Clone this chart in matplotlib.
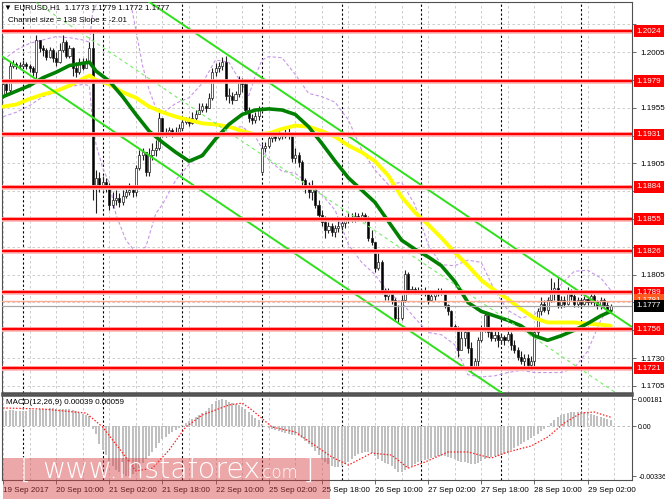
import matplotlib
matplotlib.use("Agg")
import matplotlib.pyplot as plt
import matplotlib.transforms as mtrans
from matplotlib.patches import Rectangle
import numpy as np

plt.rcParams['font.family'] = ['Liberation Sans', 'DejaVu Sans']

# ---------------- data (EURUSD H1, 19 Sep 18:00 .. 29 Sep 09:00) ----------------
closes = [
    1.1976, 1.1971, 1.1993, 1.1994, 1.1993, 1.1993, 1.1994, 1.1993, 1.1991, 1.1987,
    1.2016, 1.2009, 1.2007, 1.2001, 1.2007, 1.2000, 1.1996, 1.2007, 1.2014, 1.2002,
    1.2009, 1.1991, 1.1987, 1.1996, 1.1991, 1.1996, 1.2009, 1.1886, 1.1892, 1.1886,
    1.1888, 1.1884, 1.1868, 1.1872, 1.1874, 1.1870, 1.1876, 1.1879, 1.1881, 1.1879,
    1.1901, 1.1913, 1.1915, 1.1897, 1.1913, 1.1917, 1.1919, 1.1946, 1.1933, 1.1932,
    1.1935, 1.1931, 1.1933, 1.1937, 1.1942, 1.1944, 1.1941, 1.1946, 1.1949, 1.1953,
    1.1957, 1.1955, 1.1964, 1.1987, 1.1991, 1.1993, 1.1996, 1.1966, 1.1966, 1.1962,
    1.1967, 1.1980, 1.1976, 1.1953, 1.1946, 1.1944, 1.1948, 1.1953, 1.1919, 1.1921,
    1.1928, 1.1930, 1.1928, 1.1931, 1.1930, 1.1932, 1.1931, 1.1910, 1.1913, 1.1906,
    1.1890, 1.1883, 1.1879, 1.1884, 1.1868, 1.1859, 1.1852, 1.1845, 1.1849, 1.1843,
    1.1847, 1.1849, 1.1851, 1.1855, 1.1857, 1.1855, 1.1858, 1.1856, 1.1859, 1.1857,
    1.1838, 1.1834, 1.1811, 1.1816, 1.1791, 1.1786, 1.1789, 1.1782, 1.1766, 1.1766,
    1.1782, 1.1806, 1.1791, 1.1792, 1.1790, 1.1791, 1.1789, 1.1790, 1.1782, 1.1786,
    1.1789, 1.1790, 1.1789, 1.1778, 1.1772, 1.1759, 1.1756, 1.1737, 1.1748, 1.1753,
    1.1739, 1.1721, 1.1727, 1.1746, 1.1757, 1.1769, 1.1753, 1.1748, 1.1751, 1.1746,
    1.1749, 1.1746, 1.1752, 1.1742, 1.1737, 1.1731, 1.1727, 1.1730, 1.1724, 1.1727,
    1.1753, 1.1772, 1.1779, 1.1773, 1.1782, 1.1791, 1.1793, 1.1778, 1.1782, 1.1779,
    1.1789, 1.1786, 1.1779, 1.1782, 1.1779, 1.1783, 1.1780, 1.1786, 1.1780, 1.1777,
    1.1782, 1.1778, 1.1773, 1.1777]
highs = [
    1.1980, 1.1978, 1.1996, 1.1998, 1.1996, 1.1996, 1.1998, 1.1996, 1.1994, 1.1993,
    1.2020, 1.2016, 1.2011, 1.2009, 1.2010, 1.2009, 1.2005, 1.2013, 1.2020, 1.2016,
    1.2011, 1.2010, 1.1996, 1.2000, 1.2000, 1.2000, 1.2014, 1.2023, 1.1899, 1.1897,
    1.1894, 1.1892, 1.1887, 1.1879, 1.1881, 1.1878, 1.1881, 1.1884, 1.1887, 1.1886,
    1.1904, 1.1917, 1.1919, 1.1915, 1.1919, 1.1923, 1.1926, 1.1953, 1.1946, 1.1937,
    1.1938, 1.1937, 1.1938, 1.1940, 1.1948, 1.1947, 1.1947, 1.1951, 1.1953, 1.1959,
    1.1959, 1.1959, 1.1968, 1.1991, 1.1995, 1.1996, 1.2001, 1.2002, 1.1973, 1.1969,
    1.1970, 1.1984, 1.1982, 1.1978, 1.1956, 1.1949, 1.1951, 1.1957, 1.1922, 1.1924,
    1.1931, 1.1933, 1.1933, 1.1935, 1.1932, 1.1936, 1.1937, 1.1932, 1.1919, 1.1915,
    1.1908, 1.1892, 1.1888, 1.1890, 1.1886, 1.1872, 1.1863, 1.1858, 1.1852, 1.1851,
    1.1850, 1.1854, 1.1856, 1.1858, 1.1860, 1.1860, 1.1861, 1.1860, 1.1861, 1.1860,
    1.1858, 1.1845, 1.1834, 1.1827, 1.1818, 1.1793, 1.1793, 1.1791, 1.1784, 1.1778,
    1.1787, 1.1809, 1.1807, 1.1795, 1.1794, 1.1794, 1.1793, 1.1794, 1.1791, 1.1790,
    1.1791, 1.1793, 1.1793, 1.1791, 1.1779, 1.1773, 1.1761, 1.1759, 1.1755, 1.1757,
    1.1754, 1.1744, 1.1730, 1.1749, 1.1760, 1.1772, 1.1770, 1.1757, 1.1754, 1.1754,
    1.1752, 1.1751, 1.1755, 1.1753, 1.1746, 1.1740, 1.1736, 1.1734, 1.1734, 1.1732,
    1.1755, 1.1775, 1.1785, 1.1782, 1.1785, 1.1802, 1.1798, 1.1803, 1.1786, 1.1786,
    1.1794, 1.1792, 1.1788, 1.1785, 1.1784, 1.1786, 1.1785, 1.1791, 1.1788, 1.1782,
    1.1785, 1.1784, 1.1780, 1.1779]
lows = [
    1.1964, 1.1966, 1.1968, 1.1991, 1.1990, 1.1991, 1.1992, 1.1990, 1.1987, 1.1984,
    1.1982, 1.2005, 1.2002, 1.1998, 1.2000, 1.1996, 1.1993, 1.1995, 1.2005, 1.2000,
    1.2000, 1.1984, 1.1983, 1.1985, 1.1989, 1.1991, 1.1994, 1.1872, 1.1860, 1.1879,
    1.1881, 1.1879, 1.1863, 1.1865, 1.1868, 1.1866, 1.1868, 1.1874, 1.1877, 1.1875,
    1.1876, 1.1899, 1.1908, 1.1894, 1.1894, 1.1908, 1.1912, 1.1917, 1.1929, 1.1929,
    1.1930, 1.1929, 1.1930, 1.1931, 1.1935, 1.1940, 1.1939, 1.1940, 1.1944, 1.1949,
    1.1951, 1.1951, 1.1955, 1.1962, 1.1984, 1.1987, 1.1989, 1.1962, 1.1959, 1.1958,
    1.1964, 1.1965, 1.1969, 1.1949, 1.1942, 1.1940, 1.1941, 1.1944, 1.1896, 1.1915,
    1.1919, 1.1924, 1.1925, 1.1926, 1.1927, 1.1928, 1.1927, 1.1906, 1.1905, 1.1902,
    1.1885, 1.1878, 1.1874, 1.1872, 1.1865, 1.1854, 1.1849, 1.1838, 1.1842, 1.1840,
    1.1839, 1.1843, 1.1845, 1.1847, 1.1851, 1.1852, 1.1852, 1.1853, 1.1854, 1.1852,
    1.1835, 1.1832, 1.1807, 1.1809, 1.1788, 1.1782, 1.1782, 1.1779, 1.1763, 1.1762,
    1.1764, 1.1780, 1.1788, 1.1789, 1.1788, 1.1788, 1.1787, 1.1786, 1.1779, 1.1781,
    1.1782, 1.1786, 1.1787, 1.1775, 1.1769, 1.1755, 1.1754, 1.1731, 1.1737, 1.1741,
    1.1735, 1.1718, 1.1719, 1.1723, 1.1744, 1.1753, 1.1749, 1.1745, 1.1745, 1.1740,
    1.1743, 1.1742, 1.1745, 1.1737, 1.1735, 1.1728, 1.1725, 1.1723, 1.1721, 1.1719,
    1.1723, 1.1750, 1.1769, 1.1771, 1.1770, 1.1780, 1.1782, 1.1775, 1.1775, 1.1776,
    1.1778, 1.1782, 1.1776, 1.1776, 1.1777, 1.1778, 1.1778, 1.1779, 1.1777, 1.1774,
    1.1774, 1.1775, 1.1772, 1.1772]
first_open = 1.1966
gap_bar = 78          # Monday open 25 Sep 00:00
gap_open = 1.1897

ma_bars = [0, 4, 8, 12, 16, 20, 24, 26, 28] + list(range(32, 181, 4)) + [183]
ma_green = [1.1965, 1.1970, 1.1975, 1.1982, 1.1987, 1.1993, 1.1995, 1.1996, 1.1988,
            1.1979, 1.1965, 1.1949, 1.1934, 1.1924, 1.1915, 1.1907, 1.1912, 1.1927, 1.1940,
            1.1949, 1.1953, 1.1954, 1.1953, 1.1949, 1.1938, 1.1923, 1.1907, 1.1892, 1.1881,
            1.1870, 1.1853, 1.1836, 1.1828, 1.1821, 1.1813, 1.1799, 1.1780, 1.1772, 1.1768,
            1.1764, 1.1759, 1.1750, 1.1746, 1.1750, 1.1755, 1.1761, 1.1768, 1.1772]
ma_yellow = [1.1956, 1.1958, 1.1963, 1.1967, 1.1970, 1.1975, 1.1981, 1.1984, 1.1980,
             1.1976, 1.1969, 1.1964, 1.1956, 1.1951, 1.1947, 1.1944, 1.1941, 1.1940, 1.1938,
             1.1934, 1.1931, 1.1932, 1.1936, 1.1939, 1.1938, 1.1934, 1.1929, 1.1921, 1.1915,
             1.1907, 1.1894, 1.1875, 1.1861, 1.1850, 1.1838, 1.1825, 1.1813, 1.1800, 1.1791,
             1.1783, 1.1774, 1.1766, 1.1762, 1.1762, 1.1762, 1.1761, 1.1760, 1.1759]

bb_up_bars = [0, 4, 8, 12, 16, 20, 24, 26, 27, 28, 30, 34, 38, 40, 42, 44, 46, 48, 52, 56,
              60, 64, 68, 72, 74, 76, 78, 80, 84, 88, 92, 96, 100, 104, 108, 112, 116, 120,
              124, 128, 132, 136, 140, 144, 148, 152, 156, 160, 164, 168, 172, 176, 180, 183]
bb_up = [1.1998, 1.2007, 1.2013, 1.2016, 1.2019, 1.2018, 1.2016, 1.2014, 1.2041, 1.2047,
         1.2061, 1.2070, 1.2056, 1.2025, 1.1993, 1.1971, 1.1955, 1.1950, 1.1959, 1.1964,
         1.1977, 1.1998, 1.1996, 1.1976, 1.1966, 1.1984, 1.1998, 1.2001, 1.2000, 1.1985,
         1.1968, 1.1965, 1.1960, 1.1944, 1.1917, 1.1899, 1.1886, 1.1888, 1.1868, 1.1832,
         1.1814, 1.1813, 1.1818, 1.1816, 1.1791, 1.1773, 1.1766, 1.1769, 1.1782, 1.1796,
         1.1808, 1.1809, 1.1802, 1.1791]
bb_lo_bars = [0, 4, 8, 12, 16, 20, 24, 26, 27, 28, 30, 32, 34, 37, 40, 43, 46, 48, 52, 56,
              60, 64, 68, 72, 76, 80, 84, 88, 92, 96, 100, 104, 108, 112, 116, 120, 124, 128,
              132, 136, 140, 144, 148, 152, 156, 160, 164, 168, 172, 176, 180, 183]
bb_lo = [1.1947, 1.1951, 1.1957, 1.1965, 1.1969, 1.1974, 1.1976, 1.1975, 1.1940, 1.1922,
         1.1901, 1.1887, 1.1859, 1.1836, 1.1825, 1.1830, 1.1860, 1.1868, 1.1890, 1.1904,
         1.1914, 1.1928, 1.1937, 1.1938, 1.1929, 1.1908, 1.1898, 1.1896, 1.1887, 1.1877,
         1.1863, 1.1832, 1.1816, 1.1805, 1.1789, 1.1780, 1.1766, 1.1753, 1.1751, 1.1742,
         1.1715, 1.1713, 1.1714, 1.1717, 1.1719, 1.1717, 1.1717, 1.1717, 1.1721, 1.1736,
         1.1764, 1.1778]

levels = [1.2024, 1.1979, 1.1931, 1.1884, 1.1855, 1.1826, 1.1789, 1.1756, 1.1721]
ask_price = 1.1781
bid_price = 1.1777

channel_size_pips = 138
channel_slope_pips = -2.01
channel_anchor_bar = 132.2
channel_anchor_price = 1.18729   # upper channel line at the anchor bar

# MACD(12,26,9) in units of 1e-5
macd_hist = [
    101, 101, 107, 107, 101, 101, 101, 101, 107, 107,
    107, 114, 114, 114, 121, 121, 114, 114, 114, 114,
    114, 107, 101, 87, 81, 74, 67,
    -20,
    -54, -121, -161, -195, -235, -268, -295, -309, -322, -336,
    -336, -322, -302, -282, -248, -221, -201, -174, -148, -114,
    -87, -74, -54, -40, -27, -13,
    7, 20, 34, 47, 60, 74, 87, 101, 121, 148, 168, 174, 181,
    174, 161, 154, 148, 141, 127, 114, 94, 74, 54, 40, 13, 0,
    -13, -20, -27, -34, -40, -47, -54, -60, -60, -67, -81, -101, -121, -141, -168, -195,
    -221, -242, -255, -268,
    -275, -275, -268, -255, -242, -221, -201, -188, -181, -174, -174, -181,
    -201, -221, -235, -248, -255, -268, -289, -309,
    -309, -295, -282, -268, -255, -242, -235, -228, -221, -215, -208, -201, -201, -201,
    -208, -215, -221, -235, -242, -242,
    -248, -255, -255, -248, -235, -221, -215, -208, -201, -201, -195, -188, -181,
    -161, -148, -134, -121, -107, -94, -81, -67, -54, -34, -20, -7,
    20, 40, 60, 74, 81, 87, 94, 94, 94, 94, 94, 94, 81, 74, 67, 60, 54, 47, 39]
sig_bars = [0, 12, 25, 30, 36, 40, 45, 50, 55, 60, 68, 72, 75, 81, 88, 99, 104, 111, 117,
            122, 127, 134, 140, 147, 152, 159, 164, 169, 174, 178, 183]
macd_signal = [121, 114, 87, -7, -181, -302, -282, -161, -7, 74, 141, 154, 107, -7, -40,
               -208, -262, -181, -195, -282, -242, -174, -174, -215, -174, -134, -74, 20,
               87, 94, 59]
macd_scale_labels = [0.00181, 0.0, -0.00336]

time_tick_bars = [0, 16, 32, 48, 64, 80, 96, 112, 128, 144, 160, 176]
time_tick_labels = ['19 Sep 2017', '20 Sep 10:00', '21 Sep 02:00', '21 Sep 18:00',
                    '22 Sep 10:00', '25 Sep 02:00', '25 Sep 18:00', '26 Sep 10:00',
                    '27 Sep 02:00', '27 Sep 18:00', '28 Sep 10:00', '29 Sep 02:00']
day_start_bars = [6, 30, 54, 78, 102, 126, 150, 174]
price_grid = [round(1.1705 + 0.0025 * i, 4) for i in range(14)]

# ---------------- figure ----------------
W, H = 665, 499
fig = plt.figure(figsize=(W / 100, H / 100), dpi=100)
fig.patch.set_facecolor('white')


def fx(px):
    return px / W


def fy(py):
    return 1 - py / H


ax = fig.add_axes([fx(2), fy(393), fx(632) - fx(2), fy(2) - fy(393)])
axm = fig.add_axes([fx(2), fy(480), fx(632) - fx(2), fy(395) - fy(480)])

XL = (-0.32, 189.4)
ax.set_xlim(*XL)
axm.set_xlim(*XL)
ax.set_ylim(1.16986, 1.20501)
axm.set_ylim(-0.00362, 0.00208)

grid_col = '#c4c4c4'
grid_ls = (0, (3, 3))
for a in (ax, axm):
    for b in range(0, 190, 8):
        a.axvline(b, color=grid_col, lw=0.6, ls=grid_ls, zorder=0.5)
    for d in day_start_bars:
        a.axvline(d, color='black', lw=0.8, ls=(0, (2, 2)), zorder=0.8)
    for s in a.spines.values():
        s.set_color('#505050')
        s.set_linewidth(0.8)
for g in price_grid:
    ax.axhline(g, color=grid_col, lw=0.6, ls=grid_ls, zorder=0.5)
ax.spines['bottom'].set_linewidth(1.8)
axm.spines['top'].set_linewidth(1.8)

# Bollinger bands
ax.plot(bb_up_bars, bb_up, color='#c896e8', lw=0.8, ls=(0, (3, 2)), zorder=1.5)
ax.plot(bb_lo_bars, bb_lo, color='#c896e8', lw=0.8, ls=(0, (3, 2)), zorder=1.5)

# candles
c = np.array(closes)
n = len(c)
idx = np.arange(n)
o = np.empty(n)
o[0] = first_open
o[1:] = c[:-1]
o[gap_bar] = gap_open
h = np.maximum(np.array(highs), np.maximum(o, c))
l = np.minimum(np.array(lows), np.minimum(o, c))
up = c >= o
ax.vlines(idx, l, h, color='#202020', lw=0.8, zorder=3)
body = np.maximum(np.abs(c - o), 0.00004)
ax.bar(idx, body, bottom=np.minimum(o, c), width=0.62,
       color=['white' if u else 'black' for u in up],
       edgecolor='#202020', linewidth=0.5, zorder=3.5)

# moving averages
ax.plot(ma_bars, ma_yellow, color='#ffff00', lw=2.8, zorder=4, solid_capstyle='round')
ax.plot(ma_bars, ma_green, color='#008000', lw=2.6, zorder=4.1, solid_capstyle='round')

# regression channel
xs = np.array([XL[0] - 2, XL[1] + 2])
upper = channel_anchor_price + channel_slope_pips * 1e-4 * (xs - channel_anchor_bar)
ch_size = channel_size_pips * 1e-4
ax.plot(xs, upper, color='#2ee01a', lw=1.4, zorder=4.5)
ax.plot(xs, upper - ch_size, color='#2ee01a', lw=1.4, zorder=4.5)
ax.plot(xs, upper - ch_size / 2, color='#70f060', lw=0.8, ls=(0, (3, 3)), zorder=4.5)

# bid / ask lines
ax.axhline(ask_price, color='#ffab90', lw=1.0, zorder=4.6)
ax.axhline(bid_price, color='#a8a8a8', lw=0.9, zorder=4.6)

# horizontal levels
for lv in levels:
    ax.axhline(lv, color='#ffb8b8', lw=3.4, zorder=5)
    ax.axhline(lv, color='#ff0000', lw=1.7, zorder=5.1)

# right axis: grid labels that are not hidden behind a price box
boxed = levels + [ask_price, bid_price]
shown = [g for g in price_grid if min(abs(g - b) for b in boxed) > 0.0008]
ax.yaxis.tick_right()
ax.set_yticks(price_grid)
ax.set_yticklabels([f'{g:.4f}' if g in shown else '' for g in price_grid])
ax.tick_params(axis='y', labelsize=5.8, pad=3, length=3, width=0.6, color='#505050')
ax.set_xticks([])

trans = mtrans.blended_transform_factory(ax.transAxes, ax.transData)
box_kw = dict(fontsize=5.8, va='center', ha='left', clip_on=False, zorder=20,
              transform=trans)
for lv in levels:
    ax.text(1.0075, lv, f'{lv:.4f}', color='white',
            bbox=dict(boxstyle='square,pad=0.3', fc='#ff0000', ec='#ff0000', lw=0), **box_kw)
ax.text(1.0075, ask_price + 0.0001, f'{ask_price:.4f}', color='white',
        bbox=dict(boxstyle='square,pad=0.3', fc='#ff5a1e', ec='#ff5a1e', lw=0), **box_kw)
ax.text(1.0075, bid_price, f'{bid_price:.4f}', color='white',
        bbox=dict(boxstyle='square,pad=0.3', fc='black', ec='black', lw=0), **box_kw)

# MACD panel
axm.axhline(0, color='#b0b0b0', lw=0.6, ls=grid_ls, zorder=1)
axm.bar(idx, np.array(macd_hist) * 1e-5, width=0.6, color='#c0c0c0', zorder=2)
axm.plot(sig_bars, np.array(macd_signal) * 1e-5, color='#ff2020', lw=0.9,
         ls=(0, (1.2, 1.4)), zorder=3)
axm.yaxis.tick_right()
axm.set_yticks(macd_scale_labels)
axm.set_yticklabels(['0.00181', '0.00', '-0.00336'])
axm.tick_params(axis='y', labelsize=5.0, pad=1.5, length=3, width=0.6, color='#505050')
axm.set_xticks(time_tick_bars)
axm.set_xticklabels(time_tick_labels)
axm.tick_params(axis='x', labelsize=5.8, pad=2, length=3, width=0.6, color='#505050')
for lb in axm.get_xticklabels():
    lb.set_horizontalalignment('left')

# header texts
fig.text(fx(4), fy(8), '\u25bc EURUSD,H1  1.1773 1.1779 1.1772 1.1777', fontsize=5.8,
         va='center', ha='left')
fig.text(fx(8), fy(20), f'Channel size = {channel_size_pips} Slope = {channel_slope_pips:.2f}',
         fontsize=5.8, va='center', ha='left')
fig.text(fx(6), fy(402),
         f'MACD(12,26,9) {macd_hist[-1] * 1e-5:.5f} {macd_signal[-1] * 1e-5:.5f}',
         fontsize=5.8, va='center', ha='left')

# watermark
fig.add_artist(Rectangle((fx(3), 0), fx(330) - fx(3), 41 / H, transform=fig.transFigure,
                         facecolor=(0.84, 0.24, 0.26), alpha=0.45, lw=0, zorder=30))
wm = dict(color='white', va='baseline', ha='left', zorder=31, family='DejaVu Sans',
          weight='light')
fig.text(fx(20), fy(479), '[', fontsize=21, **wm)
fig.text(fx(42), fy(478), 'www.instaforex', fontsize=20.5, **wm)
fig.text(fx(258), fy(478), '.com', fontsize=12, **wm)
fig.text(fx(303), fy(479), ']', fontsize=21, **wm)

fig.savefig('out.png', dpi=100, facecolor='white')
